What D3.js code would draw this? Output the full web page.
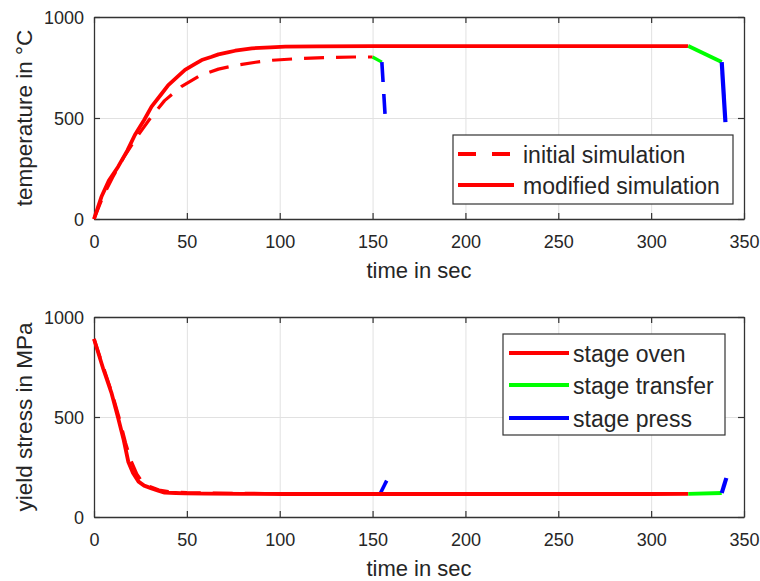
<!DOCTYPE html>
<html>
<head>
<meta charset="utf-8">
<script src="https://cdn.jsdelivr.net/npm/d3@7"></script>
<style>
  html, body { margin: 0; padding: 0; background: #ffffff; }
  svg { display: block; font-family: "Liberation Sans", Arial, Helvetica, sans-serif; }
</style>
</head>
<body>
<svg id="chart" width="760" height="581"></svg>
<script>
// ---------- DATA ----------
const timeTicks = [0, 50, 100, 150, 200, 250, 300, 350];
const valueTicks = [0, 500, 1000];

// Top panel: temperature (°C)
const modOvenTime  = [0, 4, 8, 13, 18, 22, 27, 31, 36, 40, 45, 49, 54, 58, 63, 67, 72, 76, 85, 95, 103, 120, 150, 200, 250, 300, 320];
const modOvenTemp  = [0, 110, 190, 259, 340, 416, 490, 556, 615, 663, 705, 738, 765, 787, 802, 815, 825, 833, 845, 850, 853, 855, 856, 856, 856, 856, 856];
const modTransferTime = [320, 338];
const modTransferTemp = [856, 777];
const modPressTime = [338, 340];
const modPressTemp = [777, 480];

const initOvenTime = [0, 5, 10, 16, 23, 30, 38, 47, 57, 67, 77, 87, 96, 110, 125, 140, 150];
const initOvenTemp = [0, 115, 205, 305, 405, 495, 586, 655, 710, 742, 762, 776, 786, 794, 799, 802, 802];
const initTransferTime = [150, 155];
const initTransferTemp = [802, 777];
const initPressTime = [155, 157];
const initPressTemp = [777, 475];

// Bottom panel: yield stress (MPa)
const modOvenStressTime = [0, 5, 9.5, 13, 16, 18.5, 21, 24, 27, 31, 35, 38, 44, 49, 60, 80, 103, 150, 200, 250, 300, 320];
const modOvenStress     = [890, 740, 618, 495, 385, 275, 220, 177, 157, 143, 130, 122, 120, 118, 117, 116, 115, 115, 115, 115, 115, 116];
const modTransferStressTime = [320, 338];
const modTransferStress     = [116, 120];
const modPressStressTime = [338, 340.5];
const modPressStress     = [120, 195];

const initOvenStressTime = [0, 5, 10, 14, 17, 20, 23, 26, 30, 35, 40, 50, 60, 80, 100, 125, 150];
const initOvenStress     = [890, 750, 610, 480, 370, 280, 215, 175, 152, 135, 127, 122, 120, 118, 117, 116, 115];
const initTransferStressTime = [150, 154];
const initTransferStress     = [115, 115];
const initPressStressTime = [154, 157.6];
const initPressStress     = [115, 182];

const topLegend = ["initial simulation", "modified simulation"];
const bottomLegend = ["stage oven", "stage transfer", "stage press"];
const stageColors = ["#ff0000", "#00ff00", "#0000ff"];

// ---------- DRAW ----------
const svg = d3.select("#chart");
svg.append("rect").attr("width", 760).attr("height", 581).attr("fill", "#ffffff");

const TXT = "#262626";
const AX = "#333333";
const GRID = "#e1e1e1";
const x = d3.scaleLinear().domain([0, 350]).range([94, 744]);
const fmt = d3.format("d");

function zip(ts, vs) { return ts.map((t, i) => [t, vs[i]]); }

function panel(top, bottom, yLabel) {
  const y = d3.scaleLinear().domain([0, 1000]).range([bottom, top]);
  const g = svg.append("g");

  // grid
  g.append("g").attr("class", "grid").attr("transform", `translate(0,${bottom})`)
    .call(d3.axisBottom(x).tickValues(timeTicks).tickSize(-(bottom - top)).tickFormat(""))
    .call(s => s.select(".domain").remove());
  g.append("g").attr("class", "grid").attr("transform", `translate(94,0)`)
    .call(d3.axisLeft(y).tickValues(valueTicks).tickSize(-(744 - 94)).tickFormat(""))
    .call(s => s.select(".domain").remove());

  // axes (ticks inward)
  const axes = g.append("g").attr("class", "axes");
  const xb = axes.append("g").attr("transform", `translate(0,${bottom})`)
    .call(d3.axisBottom(x).tickValues(timeTicks).tickSize(-6).tickSizeOuter(0).tickFormat(fmt));
  xb.selectAll("text").attr("y", 28.5).attr("dy", null).attr("font-size", 18).attr("fill", TXT)
    .attr("font-family", "Liberation Sans, Arial, sans-serif");
  const yl = axes.append("g").attr("transform", `translate(94,0)`)
    .call(d3.axisLeft(y).tickValues(valueTicks).tickSize(-6).tickSizeOuter(0).tickFormat(fmt));
  yl.selectAll("text").attr("x", -10).attr("dy", null).attr("y", 6.5).attr("font-size", 18).attr("fill", TXT)
    .attr("font-family", "Liberation Sans, Arial, sans-serif");
  axes.append("g").attr("transform", `translate(0,${top})`)
    .call(d3.axisTop(x).tickValues(timeTicks).tickSize(-6).tickSizeOuter(0).tickFormat(""));
  axes.append("g").attr("transform", `translate(744,0)`)
    .call(d3.axisRight(y).tickValues(valueTicks).tickSize(-6).tickSizeOuter(0).tickFormat(""));

  g.selectAll(".grid line").attr("stroke", GRID).attr("stroke-width", 1);
  axes.selectAll(".domain").attr("stroke", AX).attr("stroke-width", 1.3);
  axes.selectAll(".tick line").attr("stroke", AX).attr("stroke-width", 1.2);

  // labels
  g.append("text").attr("x", 419).attr("y", bottom + 59).attr("text-anchor", "middle")
    .attr("font-size", 22).attr("fill", TXT).text("time in sec");
  g.append("text").attr("transform", `translate(32,${(top + bottom) / 2}) rotate(-90)`)
    .attr("text-anchor", "middle").attr("font-size", 22.5).attr("fill", TXT).text(yLabel);

  return { g, y };
}

function drawLine(p, ts, vs, color, dashed, w) {
  const line = d3.line().x(d => x(d[0])).y(d => p.y(d[1])).curve(d3.curveLinear);
  p.g.append("path").datum(zip(ts, vs)).attr("d", line).attr("fill", "none")
    .attr("stroke", color).attr("stroke-width", w || 3.8)
    .attr("stroke-linejoin", "round")
    .attr("stroke-dasharray", dashed ? "20,12" : null);
}

// Top panel
const pTop = panel(17, 219, "temperature in °C");
drawLine(pTop, initOvenTime, initOvenTemp, stageColors[0], true, 3.2);
drawLine(pTop, initTransferTime, initTransferTemp, stageColors[1], true, 3.2);
drawLine(pTop, initPressTime, initPressTemp, stageColors[2], true, 3.6);
drawLine(pTop, modOvenTime, modOvenTemp, stageColors[0], false);
drawLine(pTop, modTransferTime, modTransferTemp, stageColors[1], false);
drawLine(pTop, modPressTime, modPressTemp, stageColors[2], false, 4.2);

// Bottom panel
const pBot = panel(317, 517, "yield stress in MPa");
drawLine(pBot, initOvenStressTime, initOvenStress, stageColors[0], true, 3.2);
drawLine(pBot, initTransferStressTime, initTransferStress, stageColors[1], true, 3.2);
drawLine(pBot, initPressStressTime, initPressStress, stageColors[2], true, 3.6);
drawLine(pBot, modOvenStressTime, modOvenStress, stageColors[0], false);
drawLine(pBot, modTransferStressTime, modTransferStress, stageColors[1], false);
drawLine(pBot, modPressStressTime, modPressStress, stageColors[2], false, 4.2);

// Legends
function legend(box, rows) {
  const lg = svg.append("g");
  lg.append("rect").attr("x", box[0]).attr("y", box[1]).attr("width", box[2]).attr("height", box[3])
    .attr("fill", "#ffffff").attr("stroke", "#333333").attr("stroke-width", 1.2);
  rows.forEach(r => {
    lg.append("line").attr("x1", r.x1).attr("x2", r.x2).attr("y1", r.y).attr("y2", r.y)
      .attr("stroke", r.color).attr("stroke-width", 4)
      .attr("stroke-dasharray", r.dash || null);
    lg.append("text").attr("x", r.tx).attr("y", r.y + 9).attr("font-size", 23).attr("fill", TXT).text(r.label);
  });
}
legend([453, 135, 280, 69], [
  { label: topLegend[0], color: stageColors[0], x1: 458, x2: 514, y: 154, tx: 523, dash: "18,16" },
  { label: topLegend[1], color: stageColors[0], x1: 458, x2: 514, y: 185, tx: 523 }
]);
legend([503, 334, 222, 101], [
  { label: bottomLegend[0], color: stageColors[0], x1: 509, x2: 569, y: 353, tx: 573 },
  { label: bottomLegend[1], color: stageColors[1], x1: 509, x2: 569, y: 385, tx: 573 },
  { label: bottomLegend[2], color: stageColors[2], x1: 509, x2: 569, y: 418, tx: 573 }
]);
</script>
</body>
</html>
